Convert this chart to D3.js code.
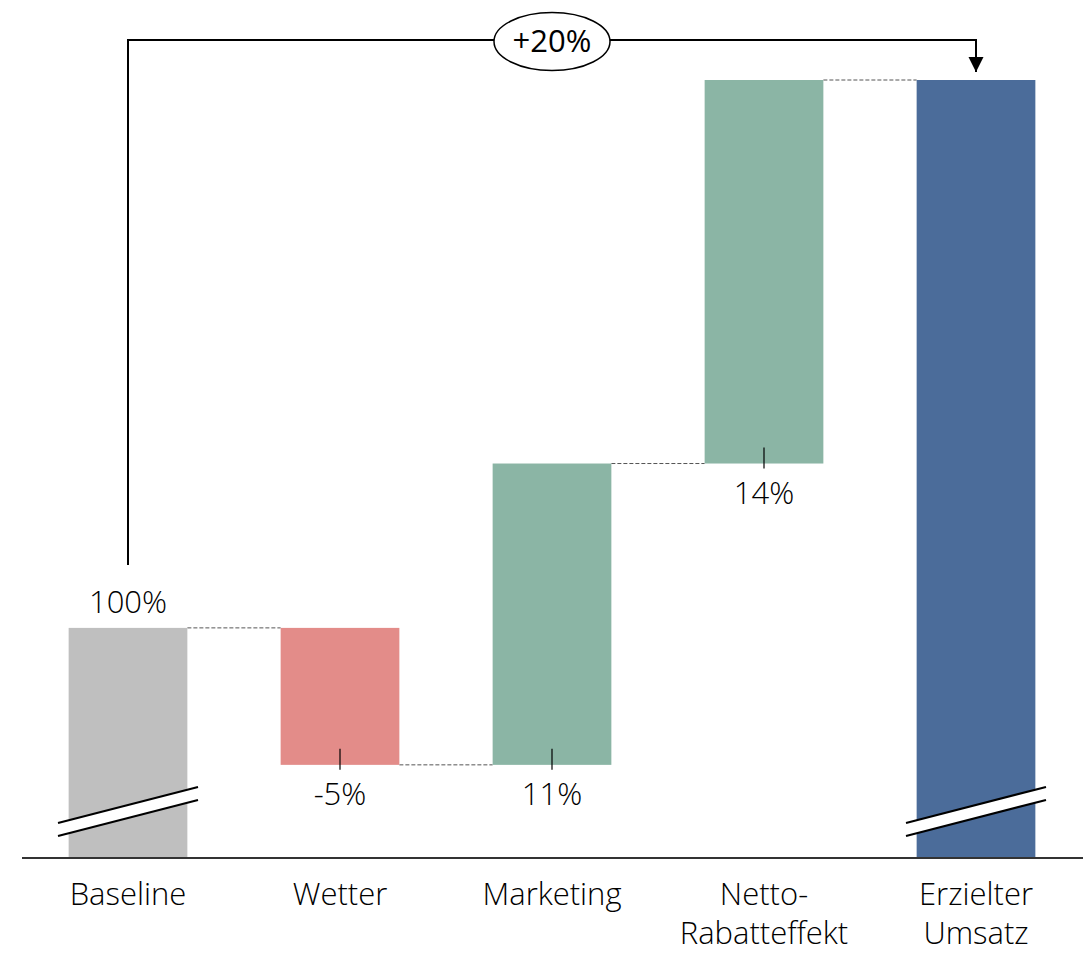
<!DOCTYPE html>
<html>
<head>
<meta charset="utf-8">
<script src="https://cdn.jsdelivr.net/npm/d3@7"></script>
<style>
  body { margin: 0; background: #fff; }
  svg text { font-family: "Open Sans", "Segoe UI", sans-serif; font-weight: 300; fill: #000; }
</style>
</head>
<body>
<div id="chart"></div>
<script>
// Data
const categories = ["Baseline", "Wetter", "Marketing", "Netto-\nRabatteffekt", "Erzielter\nUmsatz"];
const kinds = ["base", "delta", "delta", "delta", "total"];
const values = [100, -5, 11, 14, 120];
const valueLabels = ["100%", "-5%", "11%", "14%", ""];
const totalChangeLabel = "+20%";

// Dimensions
const W = 1083, H = 953;
const axisY = 858;
const colors = { base: "#bfbfbf", up: "#8bb5a5", down: "#e38c89", total: "#4b6c9a" };

const svg = d3.select("#chart").append("svg")
    .attr("width", W)
    .attr("height", H);

// Scales (axis is broken: it starts at 91.6 instead of 0)
const x = d3.scaleBand()
    .domain(categories)
    .range([22, 1082])
    .paddingInner(0.44)
    .paddingOuter(0.22);

const y = d3.scaleLinear()
    .domain([91.6, 120])
    .range([axisY, 80]);

const breakValue = 93.3;

// Compute waterfall steps
let running = 0;
const steps = categories.map((c, i) => {
    let start, end;
    if (kinds[i] === "delta") {
        start = running;
        end = running + values[i];
    } else {
        start = y.domain()[0];
        end = values[i];
    }
    running = end;
    return { cat: c, kind: kinds[i], value: values[i], start, end, label: valueLabels[i] };
});

// Connector dashed lines
steps.slice(0, -1).forEach((d, i) => {
    const next = steps[i + 1];
    svg.append("line")
        .attr("x1", x(d.cat) + x.bandwidth())
        .attr("x2", x(next.cat))
        .attr("y1", y(d.end))
        .attr("y2", y(d.end))
        .attr("stroke", "#555")
        .attr("stroke-width", 1)
        .attr("stroke-dasharray", "4,2");
});

// Bars
svg.selectAll(".bar")
    .data(steps)
    .enter()
    .append("rect")
    .attr("class", "bar")
    .attr("x", d => x(d.cat))
    .attr("width", x.bandwidth())
    .attr("y", d => y(Math.max(d.start, d.end)))
    .attr("height", d => Math.abs(y(d.start) - y(d.end)))
    .attr("fill", d => d.kind === "base" ? colors.base
        : d.kind === "total" ? colors.total
        : d.value < 0 ? colors.down : colors.up);

// Axis break marks on base and total bars
steps.filter(d => d.kind !== "delta").forEach(d => {
    const cx = x(d.cat) + x.bandwidth() / 2;
    const cy = y(breakValue);
    const hw = 70, dy = 18, gap = 6.5;
    svg.append("polygon")
        .attr("points", [
            [cx - hw, cy + dy - gap], [cx + hw, cy - dy - gap],
            [cx + hw, cy - dy + gap], [cx - hw, cy + dy + gap]
        ].map(p => p.join(",")).join(" "))
        .attr("fill", "#fff");
    [-gap, gap].forEach(o => {
        svg.append("line")
            .attr("x1", cx - hw).attr("y1", cy + dy + o)
            .attr("x2", cx + hw).attr("y2", cy - dy + o)
            .attr("stroke", "#000")
            .attr("stroke-width", 2);
    });
});

// Baseline axis
svg.append("line")
    .attr("x1", 22).attr("x2", W)
    .attr("y1", axisY).attr("y2", axisY)
    .attr("stroke", "#333")
    .attr("stroke-width", 2);

// Category labels
svg.selectAll(".cat")
    .data(steps)
    .enter()
    .append("text")
    .attr("class", "cat")
    .attr("text-anchor", "middle")
    .attr("font-size", 31)
    .attr("x", d => x(d.cat) + x.bandwidth() / 2)
    .attr("y", 905)
    .each(function (d) {
        d.cat.split("\n").forEach((line, i) => {
            d3.select(this).append("tspan")
                .attr("x", x(d.cat) + x.bandwidth() / 2)
                .attr("dy", i === 0 ? 0 : 39)
                .text(line);
        });
    });

// Value labels
steps.filter(d => d.label).forEach(d => {
    const cx = x(d.cat) + x.bandwidth() / 2;
    if (d.kind === "base") {
        svg.append("text")
            .attr("text-anchor", "middle")
            .attr("font-size", 31)
            .attr("x", cx)
            .attr("y", y(d.end) - 15)
            .text(d.label);
    } else {
        const bottom = y(Math.min(d.start, d.end));
        svg.append("line")
            .attr("x1", cx).attr("x2", cx)
            .attr("y1", bottom - 16).attr("y2", bottom + 5)
            .attr("stroke", "#000")
            .attr("stroke-width", 1.2);
        svg.append("text")
            .attr("text-anchor", "middle")
            .attr("font-size", 31)
            .attr("x", cx)
            .attr("y", bottom + 40)
            .text(d.label);
    }
});

// Difference bracket from baseline to total
const first = steps[0], last = steps[steps.length - 1];
const x0 = x(first.cat) + x.bandwidth() / 2;
const x1 = x(last.cat) + x.bandwidth() / 2;
const bracketY = 40;

svg.append("defs").append("marker")
    .attr("id", "arrow")
    .attr("viewBox", "0 0 10 10")
    .attr("refX", 10).attr("refY", 5)
    .attr("markerWidth", 7.5).attr("markerHeight", 8)
    .attr("markerUnits", "strokeWidth")
    .attr("orient", "auto")
    .append("path")
    .attr("d", "M0,0L10,5L0,10Z")
    .attr("fill", "#000");

svg.append("path")
    .attr("d", `M${x0},${y(first.end) - 63}V${bracketY}H${x1}V${y(last.end) - 8}`)
    .attr("fill", "none")
    .attr("stroke", "#000")
    .attr("stroke-width", 2)
    .attr("marker-end", "url(#arrow)");

const mid = (x(categories[2]) + x.bandwidth() / 2);
svg.append("ellipse")
    .attr("cx", mid)
    .attr("cy", bracketY + 1.5)
    .attr("rx", 58)
    .attr("ry", 29)
    .attr("fill", "#fff")
    .attr("stroke", "#000")
    .attr("stroke-width", 1.5);

svg.append("text")
    .attr("text-anchor", "middle")
    .attr("font-size", 31)
    .style("font-weight", 400)
    .attr("x", mid)
    .attr("y", bracketY + 12)
    .text(totalChangeLabel);
</script>
</body>
</html>
